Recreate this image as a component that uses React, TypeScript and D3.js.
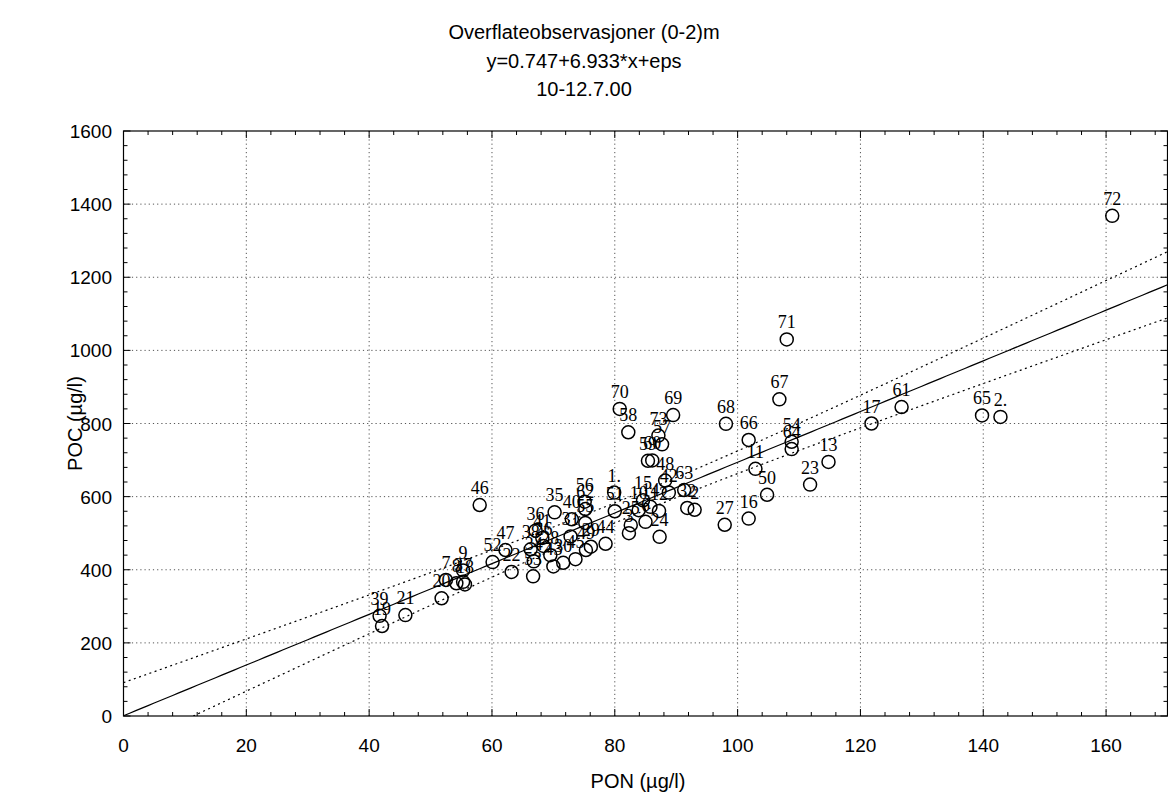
import React from "react";
import * as d3 from "d3";

const titleLines = ["Overflateobservasjoner (0-2)m", "y=0.747+6.933*x+eps", "10-12.7.00"];
const xLabel = "PON (µg/l)";
const yLabel = "POC (µg/l)";

const xMajorTicks = [0, 20, 40, 60, 80, 100, 120, 140, 160];
const yMajorTicks = [0, 200, 400, 600, 800, 1000, 1200, 1400, 1600];

const regIntercept = 0.747;
const regSlope = 6.933;
// confidence band shape parameters
const bandCenter = 85;
const bandMinHalf = 27;
const bandSpread = 1.034;

const pointLabels = [
  "72", "71", "67", "61", "17", "65", "2.", "54", "64", "13",
  "23", "11", "50", "66", "16", "27", "68", "69", "70", "58",
  "73", "57", "59", "60", "48", "42", "63", "32", "2", "15",
  "10", "14", "12", "6", "24", "25", "3", "1.", "51", "44",
  "29", "49", "55", "62", "56", "45", "40", "31", "30", "35",
  "43", "28", "26", "41", "36", "53", "34", "38", "22", "47",
  "52", "46", "9", "37", "18", "8", "7", "20", "21", "39",
  "19",
];
const ponValues = [
  161.0, 108.0, 106.8, 126.7, 121.8, 139.8, 142.8, 108.8, 108.8, 114.8,
  111.8, 102.9, 104.8, 101.8, 101.8, 97.9, 98.1, 89.5, 80.8, 82.2,
  87.1, 87.7, 85.4, 86.1, 88.2, 88.8, 91.3, 91.8, 93.0, 84.6,
  83.9, 85.8, 87.2, 85.0, 87.3, 82.6, 82.3, 79.9, 80.0, 78.5,
  76.1, 75.3, 75.2, 75.2, 75.1, 73.6, 73.0, 72.8, 71.6, 70.2,
  70.0, 69.5, 68.4, 68.2, 67.1, 66.7, 66.8, 66.3, 63.2, 62.2,
  60.1, 58.0, 55.3, 55.3, 55.6, 54.2, 52.5, 51.8, 45.9, 41.7,
  42.1,
];
const pocValues = [
  1368, 1030, 866, 845, 800, 822, 818, 750, 730, 695,
  633, 676, 605, 755, 540, 523, 799, 823, 840, 776,
  767, 743, 698, 699, 644, 611, 618, 569, 564, 590,
  563, 572, 561, 531, 490, 522, 500, 611, 560, 471,
  463, 454, 528, 566, 586, 429, 538, 491, 419, 557,
  409, 440, 465, 487, 507, 382, 423, 456, 394, 454,
  421, 577, 398, 367, 360, 363, 372, 322, 276, 274,
  246,
];

const W = 1168;
const H = 794;
const left = 123.5;
const right = 1167.5;
const top = 131;
const bottom = 716;

export default function App() {
  const x = d3.scaleLinear().domain([0, 170]).range([left, right]);
  const y = d3.scaleLinear().domain([0, 1600]).range([bottom, top]);

  const xMinor = d3.range(0, 171, 4);
  const yMinor = d3.range(0, 1601, 40);

  const xs = d3.range(0, 170.01, 1);
  const fit = (v: number) => regIntercept + regSlope * v;
  const half = (v: number) =>
    Math.sqrt(bandMinHalf * bandMinHalf + bandSpread * (v - bandCenter) * (v - bandCenter));

  const lineGen = d3
    .line<number>()
    .x((d) => x(d))
    .y((d) => y(fit(d)));
  const upperGen = d3
    .line<number>()
    .x((d) => x(d))
    .y((d) => y(fit(d) + half(d)));
  const lowerGen = d3
    .line<number>()
    .x((d) => x(d))
    .y((d) => y(fit(d) - half(d)));

  const sans = "'Liberation Sans', Arial, sans-serif";
  const serif = "'Liberation Serif', 'Times New Roman', serif";

  return (
    <svg
      width={W}
      height={H}
      style={{ position: "absolute", left: 0, top: 0, background: "#fff" }}
    >
      <defs>
        <clipPath id="plotClip">
          <rect x={left} y={top} width={right - left} height={bottom - top} />
        </clipPath>
      </defs>
      <rect x={0} y={0} width={W} height={H} fill="#fff" />

      {/* title */}
      {titleLines.map((t, i) => (
        <text
          key={i}
          x={584}
          y={39 + i * 28.5}
          textAnchor="middle"
          fontFamily={sans}
          fontSize={20}
          fill="#000"
        >
          {t}
        </text>
      ))}

      {/* grid */}
      <g stroke="#555" strokeWidth={1} strokeDasharray="1.2,3">
        {xMajorTicks
          .filter((t) => t > 0)
          .map((t) => (
            <line key={"gx" + t} x1={x(t)} x2={x(t)} y1={top} y2={bottom} />
          ))}
        {yMajorTicks
          .filter((t) => t > 0 && t < 1600)
          .map((t) => (
            <line key={"gy" + t} x1={left} x2={right} y1={y(t)} y2={y(t)} />
          ))}
      </g>

      {/* regression + confidence bands */}
      <g clipPath="url(#plotClip)" fill="none" stroke="#000">
        <path d={lineGen(xs) || ""} strokeWidth={1.2} />
        <path d={upperGen(xs) || ""} strokeWidth={1.2} strokeDasharray="2,3.5" />
        <path d={lowerGen(xs) || ""} strokeWidth={1.2} strokeDasharray="2,3.5" />
      </g>

      {/* points */}
      <g fill="none" stroke="#000" strokeWidth={1.5}>
        {ponValues.map((v, i) => (
          <circle key={"p" + i} cx={x(v)} cy={y(pocValues[i])} r={6.5} />
        ))}
      </g>
      <g fontFamily={serif} fontSize={18} fill="#000" textAnchor="middle">
        {ponValues.map((v, i) => (
          <text key={"l" + i} x={x(v)} y={y(pocValues[i]) - 11}>
            {pointLabels[i]}
          </text>
        ))}
      </g>

      {/* frame */}
      <rect
        x={left}
        y={top}
        width={right - left}
        height={bottom - top}
        fill="none"
        stroke="#000"
        strokeWidth={1.2}
      />

      {/* ticks */}
      <g stroke="#000" strokeWidth={1}>
        {xMinor.map((t) => {
          const len = t % 20 === 0 ? 7 : 4;
          return (
            <g key={"tx" + t}>
              <line x1={x(t)} x2={x(t)} y1={bottom} y2={bottom - len} />
              <line x1={x(t)} x2={x(t)} y1={top} y2={top + len} />
            </g>
          );
        })}
        {yMinor.map((t) => {
          const len = t % 200 === 0 ? 7 : 4;
          return (
            <g key={"ty" + t}>
              <line x1={left} x2={left + len} y1={y(t)} y2={y(t)} />
              <line x1={right} x2={right - len} y1={y(t)} y2={y(t)} />
            </g>
          );
        })}
      </g>

      {/* tick labels */}
      <g fontFamily={sans} fontSize={19} fill="#000">
        {xMajorTicks.map((t) => (
          <text key={"xl" + t} x={x(t)} y={752} textAnchor="middle">
            {t}
          </text>
        ))}
        {yMajorTicks.map((t) => (
          <text key={"yl" + t} x={112} y={y(t) + 7} textAnchor="end">
            {t}
          </text>
        ))}
      </g>

      {/* axis titles */}
      <text
        x={638}
        y={788}
        textAnchor="middle"
        fontFamily={sans}
        fontSize={20}
        fill="#000"
      >
        {xLabel}
      </text>
      <text
        transform={`translate(82,${(top + bottom) / 2}) rotate(-90)`}
        textAnchor="middle"
        fontFamily={sans}
        fontSize={20}
        fill="#000"
      >
        {yLabel}
      </text>
    </svg>
  );
}
